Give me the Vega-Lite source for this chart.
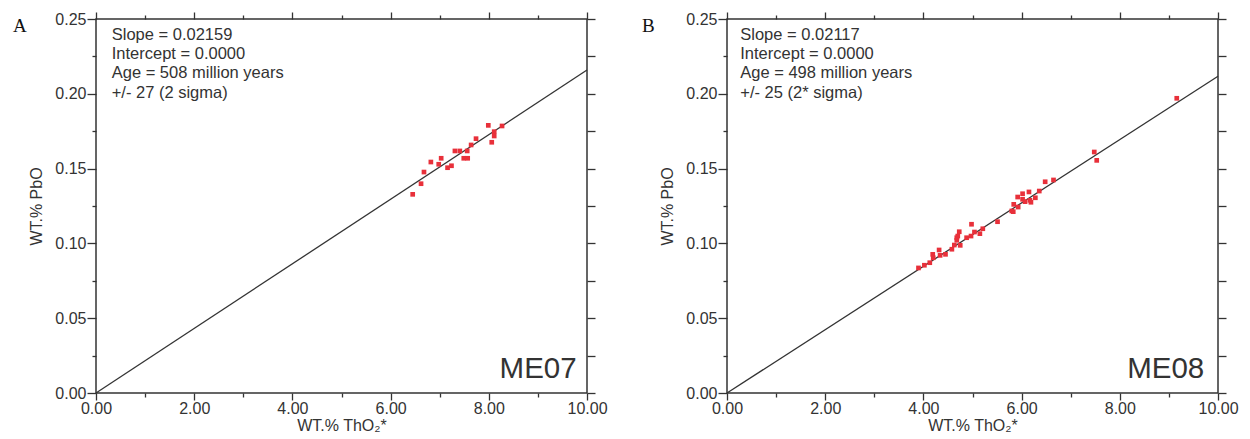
{
  "$schema": "https://vega.github.io/schema/vega-lite/v6.json",
  "background": "white",
  "padding": {"left": 12, "top": 10, "right": 5, "bottom": 0},
  "spacing": 33,
  "config": {
    "font": "Liberation Sans",
    "view": {"stroke": "#333333", "strokeWidth": 1.5},
    "axis": {
      "grid": false,
      "domain": false,
      "labelFlush": false,
      "tickColor": "#333333",
      "tickWidth": 1.3,
      "labelColor": "#333333",
      "labelFont": "Liberation Sans",
      "labelFontSize": 16,
      "titleColor": "#333333",
      "titleFont": "Liberation Sans",
      "titleFontSize": 16,
      "titleFontWeight": "normal"
    },
    "title": {"font": "Liberation Serif", "fontSize": 19, "fontWeight": "normal", "color": "#111111"}
  },
  "datasets": {
    "fitA": [{"tho2": 0, "pbo": 0}, {"tho2": 10, "pbo": 0.2159}],
    "fitB": [{"tho2": 0, "pbo": 0}, {"tho2": 10, "pbo": 0.2117}],
    "me07": [
      {"tho2": 6.45, "pbo": 0.1328}, {"tho2": 6.62, "pbo": 0.1399}, {"tho2": 6.68, "pbo": 0.1477},
      {"tho2": 6.82, "pbo": 0.1544}, {"tho2": 6.98, "pbo": 0.1529}, {"tho2": 7.03, "pbo": 0.1569},
      {"tho2": 7.16, "pbo": 0.1506}, {"tho2": 7.24, "pbo": 0.1519}, {"tho2": 7.31, "pbo": 0.1618},
      {"tho2": 7.41, "pbo": 0.1618}, {"tho2": 7.49, "pbo": 0.1569}, {"tho2": 7.57, "pbo": 0.1569},
      {"tho2": 7.56, "pbo": 0.1618}, {"tho2": 7.64, "pbo": 0.1658}, {"tho2": 7.74, "pbo": 0.1700},
      {"tho2": 7.99, "pbo": 0.1789}, {"tho2": 8.06, "pbo": 0.1676}, {"tho2": 8.11, "pbo": 0.1747},
      {"tho2": 8.11, "pbo": 0.1718}, {"tho2": 8.27, "pbo": 0.1785}
    ],
    "me08": [
      {"tho2": 3.90, "pbo": 0.0836}, {"tho2": 4.02, "pbo": 0.0854}, {"tho2": 4.13, "pbo": 0.0871},
      {"tho2": 4.19, "pbo": 0.0927}, {"tho2": 4.20, "pbo": 0.0904}, {"tho2": 4.32, "pbo": 0.0956},
      {"tho2": 4.34, "pbo": 0.0920}, {"tho2": 4.45, "pbo": 0.0927}, {"tho2": 4.58, "pbo": 0.0961},
      {"tho2": 4.63, "pbo": 0.0989}, {"tho2": 4.68, "pbo": 0.1021}, {"tho2": 4.70, "pbo": 0.1049},
      {"tho2": 4.68, "pbo": 0.1038}, {"tho2": 4.73, "pbo": 0.1078}, {"tho2": 4.75, "pbo": 0.0987},
      {"tho2": 4.88, "pbo": 0.1038}, {"tho2": 4.97, "pbo": 0.1049}, {"tho2": 4.98, "pbo": 0.1128},
      {"tho2": 5.04, "pbo": 0.1076}, {"tho2": 5.15, "pbo": 0.1065}, {"tho2": 5.21, "pbo": 0.1098},
      {"tho2": 5.51, "pbo": 0.1145}, {"tho2": 5.80, "pbo": 0.1217}, {"tho2": 5.83, "pbo": 0.1212},
      {"tho2": 5.84, "pbo": 0.1261}, {"tho2": 5.93, "pbo": 0.1243}, {"tho2": 5.92, "pbo": 0.1310},
      {"tho2": 6.02, "pbo": 0.1332}, {"tho2": 6.02, "pbo": 0.1295}, {"tho2": 6.07, "pbo": 0.1279},
      {"tho2": 6.15, "pbo": 0.1344}, {"tho2": 6.17, "pbo": 0.1288}, {"tho2": 6.19, "pbo": 0.1275},
      {"tho2": 6.28, "pbo": 0.1305}, {"tho2": 6.36, "pbo": 0.1350}, {"tho2": 6.48, "pbo": 0.1412},
      {"tho2": 6.65, "pbo": 0.1424}, {"tho2": 7.48, "pbo": 0.1611}, {"tho2": 7.53, "pbo": 0.1555},
      {"tho2": 9.16, "pbo": 0.1970}
    ]
  },
  "hconcat": [
    {
      "width": 491,
      "height": 374,
      "title": {"text": "A", "anchor": "start", "frame": "group", "dx": -83, "dy": 29},
      "resolve": {"axis": {"x": "independent", "y": "independent"}},
      "layer": [
        {
          "data": {"name": "fitA"},
          "mark": {"type": "line", "color": "#333333", "strokeWidth": 1.3},
          "encoding": {
            "x": {"field": "tho2", "type": "quantitative", "scale": {"domain": [0, 10], "nice": false},
              "axis": {"orient": "bottom", "values": [0, 1, 2, 3, 4, 5, 6, 7, 8, 9, 10],
                "labelExpr": "datum.value % 2 === 0 ? format(datum.value, '.2f') : ''",
                "tickSize": {"condition": {"test": "datum.value % 2 === 0", "value": 7}, "value": 4},
                "labelPadding": 0, "title": "WT.% ThO₂*", "titlePadding": 1}},
            "y": {"field": "pbo", "type": "quantitative", "scale": {"domain": [0, 0.25], "nice": false},
              "axis": {"orient": "left", "values": [0, 0.025, 0.05, 0.075, 0.1, 0.125, 0.15, 0.175, 0.2, 0.225, 0.25],
                "labelExpr": "abs(datum.value * 20 - round(datum.value * 20)) < 0.001 ? format(datum.value, '.2f') : ''",
                "tickSize": {"condition": {"test": "abs(datum.value * 20 - round(datum.value * 20)) < 0.001", "value": 9}, "value": 4},
                "labelPadding": 1, "title": "WT.% PbO", "titlePadding": 10}}
          }
        },
        {
          "data": {"name": "me07"},
          "mark": {"type": "square", "size": 22, "color": "#e8303a", "opacity": 1},
          "encoding": {
            "x": {"field": "tho2", "type": "quantitative", "scale": {"domain": [0, 10], "nice": false}, "axis": null},
            "y": {"field": "pbo", "type": "quantitative", "scale": {"domain": [0, 0.25], "nice": false}, "axis": null}
          }
        },
        {
          "data": {"name": "fitA"},
          "mark": {"type": "point", "opacity": 0},
          "encoding": {
            "x": {"field": "tho2", "type": "quantitative", "scale": {"domain": [0, 10], "nice": false},
              "axis": {"orient": "top", "values": [0, 1, 2, 3, 4, 5, 6, 7, 8, 9, 10],
                "tickSize": {"condition": {"test": "datum.value % 2 === 0", "value": 7}, "value": 4},
                "labels": false, "title": null}},
            "y": {"field": "pbo", "type": "quantitative", "scale": {"domain": [0, 0.25], "nice": false},
              "axis": {"orient": "right", "values": [0, 0.025, 0.05, 0.075, 0.1, 0.125, 0.15, 0.175, 0.2, 0.225, 0.25], "tickSize": 8, "labels": false, "title": null}}
          }
        },
        {
          "data": {"values": [{}]},
          "mark": {"type": "text", "align": "left", "baseline": "alphabetic", "fontSize": 16.5, "lineHeight": 19.3, "color": "#333333",
            "text": ["Slope = 0.02159", "Intercept = 0.0000", "Age = 508 million years", "+/- 27 (2 sigma)"]},
          "encoding": {
            "x": {"datum": 0.32, "type": "quantitative", "axis": null},
            "y": {"datum": 0.2362, "type": "quantitative", "axis": null}
          }
        },
        {
          "data": {"values": [{}]},
          "mark": {"type": "text", "align": "right", "baseline": "alphabetic", "fontSize": 29.5, "color": "#333333", "text": "ME07"},
          "encoding": {
            "x": {"datum": 9.79, "type": "quantitative", "axis": null},
            "y": {"datum": 0.0102, "type": "quantitative", "axis": null}
          }
        }
      ]
    },
    {
      "width": 491,
      "height": 374,
      "title": {"text": "B", "anchor": "start", "frame": "group", "dx": -85, "dy": 29},
      "resolve": {"axis": {"x": "independent", "y": "independent"}},
      "layer": [
        {
          "data": {"name": "fitB"},
          "mark": {"type": "line", "color": "#333333", "strokeWidth": 1.3},
          "encoding": {
            "x": {"field": "tho2", "type": "quantitative", "scale": {"domain": [0, 10], "nice": false},
              "axis": {"orient": "bottom", "values": [0, 1, 2, 3, 4, 5, 6, 7, 8, 9, 10],
                "labelExpr": "datum.value % 2 === 0 ? format(datum.value, '.2f') : ''",
                "tickSize": {"condition": {"test": "datum.value % 2 === 0", "value": 7}, "value": 4},
                "labelPadding": 0, "title": "WT.% ThO₂*", "titlePadding": 1}},
            "y": {"field": "pbo", "type": "quantitative", "scale": {"domain": [0, 0.25], "nice": false},
              "axis": {"orient": "left", "values": [0, 0.025, 0.05, 0.075, 0.1, 0.125, 0.15, 0.175, 0.2, 0.225, 0.25],
                "labelExpr": "abs(datum.value * 20 - round(datum.value * 20)) < 0.001 ? format(datum.value, '.2f') : ''",
                "tickSize": {"condition": {"test": "abs(datum.value * 20 - round(datum.value * 20)) < 0.001", "value": 9}, "value": 4},
                "labelPadding": 1, "title": "WT.% PbO", "titlePadding": 10}}
          }
        },
        {
          "data": {"name": "me08"},
          "mark": {"type": "square", "size": 22, "color": "#e8303a", "opacity": 1},
          "encoding": {
            "x": {"field": "tho2", "type": "quantitative", "scale": {"domain": [0, 10], "nice": false}, "axis": null},
            "y": {"field": "pbo", "type": "quantitative", "scale": {"domain": [0, 0.25], "nice": false}, "axis": null}
          }
        },
        {
          "data": {"name": "fitB"},
          "mark": {"type": "point", "opacity": 0},
          "encoding": {
            "x": {"field": "tho2", "type": "quantitative", "scale": {"domain": [0, 10], "nice": false},
              "axis": {"orient": "top", "values": [0, 1, 2, 3, 4, 5, 6, 7, 8, 9, 10],
                "tickSize": {"condition": {"test": "datum.value % 2 === 0", "value": 7}, "value": 4},
                "labels": false, "title": null}},
            "y": {"field": "pbo", "type": "quantitative", "scale": {"domain": [0, 0.25], "nice": false},
              "axis": {"orient": "right", "values": [0, 0.025, 0.05, 0.075, 0.1, 0.125, 0.15, 0.175, 0.2, 0.225, 0.25], "tickSize": 8, "labels": false, "title": null}}
          }
        },
        {
          "data": {"values": [{}]},
          "mark": {"type": "text", "align": "left", "baseline": "alphabetic", "fontSize": 16.5, "lineHeight": 19.3, "color": "#333333",
            "text": ["Slope = 0.02117", "Intercept = 0.0000", "Age = 498 million years", "+/- 25 (2* sigma)"]},
          "encoding": {
            "x": {"datum": 0.27, "type": "quantitative", "axis": null},
            "y": {"datum": 0.2362, "type": "quantitative", "axis": null}
          }
        },
        {
          "data": {"values": [{}]},
          "mark": {"type": "text", "align": "right", "baseline": "alphabetic", "fontSize": 29.5, "color": "#333333", "text": "ME08"},
          "encoding": {
            "x": {"datum": 9.72, "type": "quantitative", "axis": null},
            "y": {"datum": 0.0102, "type": "quantitative", "axis": null}
          }
        }
      ]
    }
  ]
}
